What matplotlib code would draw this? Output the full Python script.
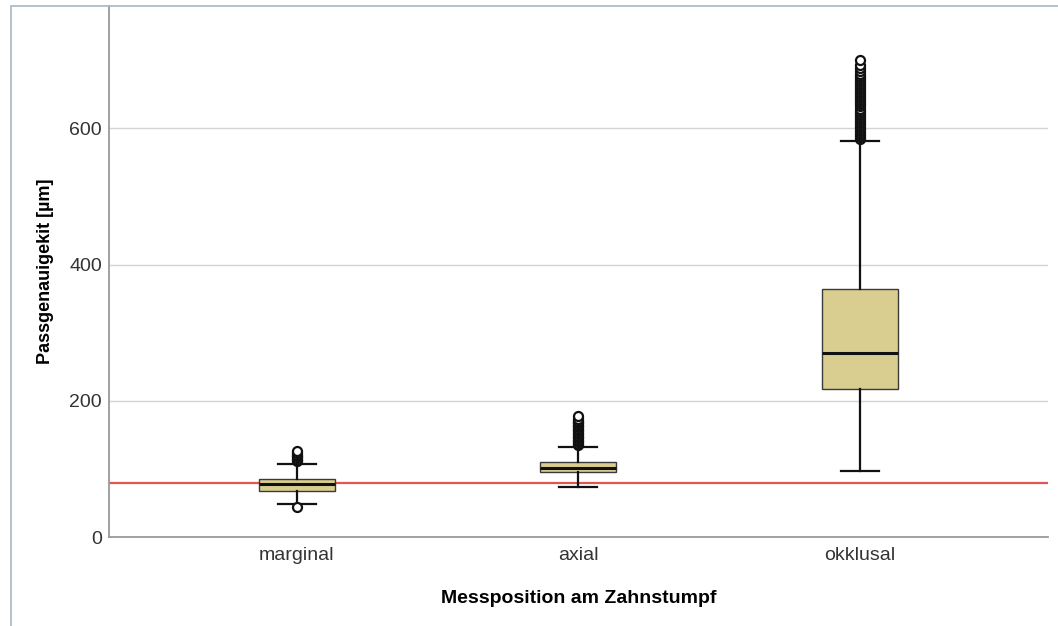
import matplotlib.pyplot as plt
from matplotlib.patches import Rectangle

plt.rcParams['font.family'] = ['Liberation Sans', 'DejaVu Sans']

# box statistics (µm)
positions = ["marginal", "axial", "okklusal"]
medians = [78, 101, 270]
q1 = [68, 95, 217]
q3 = [85, 110, 364]
whisker_low = [48, 74, 97]
whisker_high = [108, 132, 582]
outliers_marginal = [44, 111, 113, 115, 117, 119, 121, 124, 127]
outliers_axial = [135, 137, 139, 141, 143, 145, 147, 149, 151, 153, 155, 157, 159,
                  161, 163, 165, 167, 169, 171, 174, 178]
outliers_okklusal = [584, 587, 590, 593, 596, 599, 602, 605, 608, 611, 614, 617, 620,
                     623, 626, 629, 632, 635, 638, 641, 644, 647, 650, 653, 656, 659,
                     662, 665, 668, 671, 674, 677, 680, 684, 688, 693, 700]
reference_line = 80

stats = []
for i, name in enumerate(positions):
    stats.append({
        "label": name,
        "med": medians[i],
        "q1": q1[i],
        "q3": q3[i],
        "whislo": whisker_low[i],
        "whishi": whisker_high[i],
        "fliers": [outliers_marginal, outliers_axial, outliers_okklusal][i],
    })

fig = plt.figure(figsize=(10.58, 6.26), dpi=100)
ax = fig.add_axes([0.103, 0.142, 0.8875, 0.849])

# thin frame around the whole graphic
fig.patches.append(Rectangle((0.0105, -0.05), 1.2, 1.0405, transform=fig.transFigure,
                             fill=False, edgecolor="#a9b6c2", linewidth=1.2))

ax.axhline(reference_line, color="#e05555", linewidth=1.6, zorder=1)

ax.bxp(stats, positions=[1, 2, 3], widths=0.27, patch_artist=True,
       boxprops=dict(facecolor="#d9cd8f", edgecolor="#3a3a3a", linewidth=1.0),
       medianprops=dict(color="#111111", linewidth=2.2),
       whiskerprops=dict(color="#111111", linewidth=1.6),
       capprops=dict(color="#111111", linewidth=1.6),
       capwidths=0.135,
       flierprops=dict(marker="o", markerfacecolor="white", markeredgecolor="#111111",
                       markersize=6.5, markeredgewidth=1.6),
       zorder=3)

ax.set_xlim(1 / 3, 11 / 3)
ax.set_ylim(0, 780)
ax.set_yticks([0, 200, 400, 600])
ax.yaxis.grid(True, color="#d4d4d4", linewidth=1.0)
ax.set_axisbelow(True)
ax.tick_params(length=0, labelsize=14, colors="#333333")
ax.tick_params(axis="y", pad=5)
ax.tick_params(axis="x", pad=7)

for s in ["top", "right"]:
    ax.spines[s].set_visible(False)
for s in ["left", "bottom"]:
    ax.spines[s].set_color("#9a9a9a")
    ax.spines[s].set_linewidth(1.3)

ax.set_ylabel("Passgenauigekit [µm]", fontsize=13, fontweight="bold", labelpad=11)
ax.set_xlabel("Messposition am Zahnstumpf", fontsize=14, fontweight="bold", labelpad=19)

fig.savefig("out.png", dpi=100)
